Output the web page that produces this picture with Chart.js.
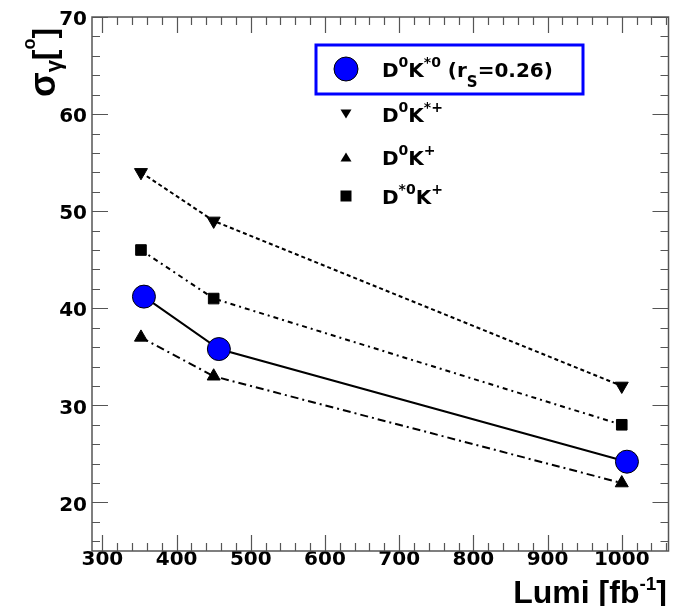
<!DOCTYPE html>
<html>
<head>
<meta charset="utf-8">
<script src="https://cdn.jsdelivr.net/npm/chart.js@4.4.1/dist/chart.umd.min.js"></script>
<style>
  html, body { margin: 0; padding: 0; background: #fff; }
</style>
</head>
<body>
<canvas id="lumiChart" width="681" height="606"></canvas>
<script>
// values
const lumi = [352, 450, 1000];
const lumiKstar0 = [356, 457, 1007];
const sigmaKstar0 = [41.2, 35.8, 24.2];
const sigmaKstarPlus = [54, 49, 32];
const sigmaKPlus = [37, 33, 22];
const sigmaDstarKPlus = [46, 41, 28];
const xTicks = [300, 400, 500, 600, 700, 800, 900, 1000];
const yTicks = [20, 30, 40, 50, 60, 70];

const FONT = '"Liberation Sans", Arial, Helvetica, sans-serif';
const WIDE = '"DejaVu Sans", sans-serif';
const AXIS = '#555';

const toPoints = (xs, ys) => xs.map((x, i) => ({ x: x, y: ys[i] }));

// text runs with super/subscripts: [text, size, dy]
function runWidth(ctx, parts, fam) {
  let w = 0;
  for (const p of parts) {
    ctx.font = 'bold ' + p[1] + 'px ' + fam;
    w += ctx.measureText(p[0]).width;
  }
  return w;
}
function drawRun(ctx, x, y, parts, fam) {
  for (const p of parts) {
    ctx.font = 'bold ' + p[1] + 'px ' + fam;
    ctx.fillText(p[0], x, y + (p[2] || 0));
    x += ctx.measureText(p[0]).width;
  }
}

const legendRows = [
  { marker: 'circle', y: 69, parts: [['D', 20], ['0', 14, -10], ['K', 20], ['*0', 14, -10], [' (r', 20], ['S', 15, 10], ['=0.26)', 20]] },
  { marker: 'down', y: 114, parts: [['D', 20], ['0', 14, -10], ['K', 20], ['*+', 14, -10]] },
  { marker: 'up', y: 157, parts: [['D', 20], ['0', 14, -10], ['K', 20], ['+', 14, -10]] },
  { marker: 'square', y: 196, parts: [['D', 20], ['*0', 14, -10], ['K', 20], ['+', 14, -10]] }
];

function marker(ctx, type, x, y) {
  ctx.beginPath();
  if (type === 'circle') {
    ctx.arc(x, y, 12, 0, Math.PI * 2);
    ctx.fillStyle = '#0000ff';
    ctx.fill();
    ctx.strokeStyle = '#000';
    ctx.lineWidth = 1;
    ctx.stroke();
    return;
  }
  ctx.fillStyle = '#000';
  if (type === 'down') {
    ctx.moveTo(x - 5.5, y - 4.5); ctx.lineTo(x + 5.5, y - 4.5); ctx.lineTo(x, y + 4.5);
  } else if (type === 'up') {
    ctx.moveTo(x - 5.5, y + 4.5); ctx.lineTo(x + 5.5, y + 4.5); ctx.lineTo(x, y - 4.5);
  } else {
    ctx.rect(x - 5.5, y - 5.5, 11, 11);
  }
  ctx.closePath();
  ctx.fill();
}

const frame = {
  id: 'frame',
  beforeDatasetsDraw(chart) {
    const { ctx, chartArea: a, scales: { x, y } } = chart;
    ctx.save();
    ctx.strokeStyle = AXIS;
    ctx.lineWidth = 1.5;
    ctx.strokeRect(a.left, a.top, a.right - a.left, a.bottom - a.top);
    ctx.lineWidth = 1.2;
    ctx.beginPath();
    for (let v = 300; v <= x.max; v += 20) {
      const px = Math.round(x.getPixelForValue(v)) + 0.5;
      const len = v % 100 === 0 ? 16 : 8;
      ctx.moveTo(px, a.bottom); ctx.lineTo(px, a.bottom - len);
      ctx.moveTo(px, a.top); ctx.lineTo(px, a.top + len);
    }
    for (let v = 16; v <= 70; v += 2) {
      const py = Math.round(y.getPixelForValue(v)) + 0.5;
      const len = v % 10 === 0 ? 16 : 8;
      ctx.moveTo(a.left, py); ctx.lineTo(a.left + len, py);
      ctx.moveTo(a.right, py); ctx.lineTo(a.right - len, py);
    }
    ctx.stroke();
    ctx.restore();
  },
  afterDraw(chart) {
    const ctx = chart.ctx;
    ctx.save();
    ctx.fillStyle = '#000';
    ctx.textBaseline = 'alphabetic';

    // x title, right aligned to the frame
    const xt = [['Lumi [fb', 32], ['-1', 19, -13], [']', 32]];
    drawRun(ctx, 667 - runWidth(ctx, xt, FONT), 603, xt, FONT);

    // y title, rotated
    ctx.save();
    ctx.translate(55, 97);
    ctx.rotate(-Math.PI / 2);
    drawRun(ctx, 0, 0, [['σ', 36], ['γ', 22, 6], ['[', 32], ['o', 18, -20], [']', 32]], FONT);
    ctx.restore();

    // legend
    ctx.fillStyle = '#fff';
    ctx.fillRect(316, 45, 267, 49);
    ctx.strokeStyle = '#0000ff';
    ctx.lineWidth = 3;
    ctx.strokeRect(316, 45, 267, 49);
    for (const row of legendRows) {
      marker(ctx, row.marker, 346, row.y);
      ctx.fillStyle = '#000';
      drawRun(ctx, 382, row.y + 8, row.parts, WIDE);
    }
    ctx.restore();
  }
};

const ctx = document.getElementById('lumiChart').getContext('2d');

new Chart(ctx, {
  type: 'line',
  data: {
    datasets: [
      {
        label: 'D0K*0 (rS=0.26)',
        data: toPoints(lumiKstar0, sigmaKstar0),
        borderColor: '#000',
        borderWidth: 2,
        pointStyle: 'circle',
        pointRadius: 11.5,
        pointBackgroundColor: '#0000ff',
        pointBorderColor: '#000',
        pointBorderWidth: 1
      },
      {
        label: 'D0K*+',
        data: toPoints(lumi, sigmaKstarPlus),
        borderColor: '#000',
        borderWidth: 2,
        borderDash: [4, 3],
        pointStyle: 'triangle',
        pointRotation: 180,
        pointRadius: 7.5,
        pointBackgroundColor: '#000',
        pointBorderColor: '#000',
        pointBorderWidth: 1
      },
      {
        label: 'D0K+',
        data: toPoints(lumi, sigmaKPlus),
        borderColor: '#000',
        borderWidth: 2,
        borderDash: [8, 4, 2, 4],
        pointStyle: 'triangle',
        pointRadius: 7.5,
        pointBackgroundColor: '#000',
        pointBorderColor: '#000',
        pointBorderWidth: 1
      },
      {
        label: 'D*0K+',
        data: toPoints(lumi, sigmaDstarKPlus),
        borderColor: '#000',
        borderWidth: 2,
        borderDash: [5, 4, 2, 4],
        pointStyle: 'rect',
        pointRadius: 7.5,
        pointBackgroundColor: '#000',
        pointBorderColor: '#000',
        pointBorderWidth: 1
      }
    ]
  },
  options: {
    responsive: false,
    animation: false,
    layout: { padding: { top: 16, right: 12, left: 0, bottom: 0 } },
    plugins: {
      legend: { display: false },
      tooltip: { enabled: false }
    },
    scales: {
      x: {
        type: 'linear',
        min: 286,
        max: 1063,
        grid: { display: false, drawTicks: false },
        border: { display: false },
        afterBuildTicks: s => { s.ticks = xTicks.map(v => ({ value: v })); },
        afterFit: s => { s.height = 55; },
        ticks: {
          color: '#000',
          padding: -3,
          maxRotation: 0,
          autoSkip: false,
          callback: v => String(v),
          font: { family: WIDE, size: 20, weight: 'bold', lineHeight: 1.2 }
        }
      },
      y: {
        min: 15,
        max: 70,
        grid: { display: false, drawTicks: false },
        border: { display: false },
        afterBuildTicks: s => { s.ticks = yTicks.map(v => ({ value: v })); },
        afterFit: s => { s.width = 92; },
        ticks: {
          color: '#000',
          padding: 5,
          labelOffset: 3,
          callback: v => String(v),
          font: { family: WIDE, size: 20, weight: 'bold' }
        }
      }
    }
  },
  plugins: [frame]
});
</script>
</body>
</html>
